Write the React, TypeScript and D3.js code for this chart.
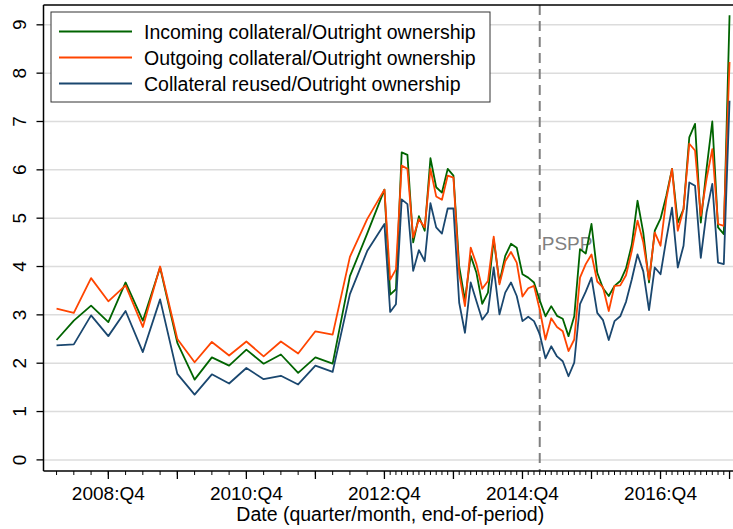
import * as d3 from 'd3';
import { useEffect, useRef } from 'react';

const WIDTH = 733;
const HEIGHT = 529;

// quarterly observations, 2008:Q1 - 2012:Q4
const quarterlyStart = '2008:Q1';
const incomingQ = [
  2.48, 2.88, 3.19, 2.85, 3.67, 2.88, 3.98, 2.42, 1.66, 2.12, 1.95, 2.28, 1.99, 2.18, 1.8, 2.12,
  1.99, 3.8, 4.68, 5.59,
];
const outgoingQ = [
  3.13, 3.04, 3.76, 3.28, 3.61, 2.75, 4.0, 2.5, 2.02, 2.44, 2.16, 2.45, 2.14, 2.45, 2.2, 2.66,
  2.59, 4.2, 4.98, 5.59,
];
const reusedQ = [
  2.37, 2.39, 2.99, 2.56, 3.08, 2.23, 3.32, 1.78, 1.35, 1.77, 1.58, 1.9, 1.67, 1.74, 1.56, 1.95,
  1.82, 3.43, 4.32, 4.88,
];

// monthly observations, 2013:M1 - 2017:M12
const monthlyStart = '2013:M1';
const incomingM = [
  3.42, 3.53, 6.36, 6.31, 4.5, 5.04, 4.74, 6.24, 5.64, 5.53, 6.02, 5.88,
  4.0, 3.3, 4.22, 3.87, 3.23, 3.46, 4.56, 3.67, 4.22, 4.47, 4.39, 3.84,
  3.77, 3.67, 3.3, 2.97, 3.18, 2.98, 2.92, 2.56, 2.97, 4.36, 4.27, 4.88,
  3.87, 3.55, 3.39, 3.6, 3.7, 3.96, 4.45, 5.36, 4.7, 3.67, 4.74, 4.99,
  5.46, 6.02, 4.91, 5.19, 6.67, 6.95, 4.91, 6.02, 7.0, 4.81, 4.67, 9.2,
];
const outgoingM = [
  3.73, 3.94, 6.09, 6.02, 4.6, 4.98, 4.81, 6.02, 5.45, 5.38, 5.88, 5.84,
  3.85, 3.18, 4.39, 4.05, 3.54, 3.7, 4.62, 3.63, 4.11, 4.3, 4.08, 3.38,
  3.55, 3.6, 3.11, 2.49, 2.93, 2.75, 2.66, 2.25, 2.49, 3.77, 4.05, 4.25,
  3.69, 3.57, 3.08, 3.6, 3.61, 3.82, 4.32, 4.95, 4.5, 3.73, 4.7, 4.43,
  5.39, 6.02, 4.74, 5.19, 6.54, 6.4, 5.05, 5.81, 6.43, 4.88, 4.84, 8.23,
];
const reusedM = [
  3.06, 3.22, 5.39, 5.29, 3.91, 4.34, 4.11, 5.31, 4.81, 4.68, 5.2, 5.2,
  3.25, 2.63, 3.67, 3.28, 2.9, 3.06, 3.98, 3.01, 3.46, 3.67, 3.39, 2.87,
  2.96, 2.87, 2.6, 2.1, 2.35, 2.14, 2.04, 1.73, 2.01, 3.22, 3.48, 3.77,
  3.04, 2.89, 2.48, 2.87, 2.97, 3.27, 3.73, 4.25, 3.9, 3.1, 3.98, 3.84,
  4.56, 5.22, 3.98, 4.43, 5.74, 5.67, 4.18, 5.12, 5.71, 4.08, 4.05, 7.43,
];

const seriesNames = [
  'Incoming collateral/Outright ownership',
  'Outgoing collateral/Outright ownership',
  'Collateral reused/Outright ownership',
];
const seriesColors = ['#006400', '#ff4500', '#1a476f'];

const xTickLabels = ['2008:Q4', '2010:Q4', '2012:Q4', '2014:Q4', '2016:Q4'];
const yTicks = [0, 1, 2, 3, 4, 5, 6, 7, 8, 9];
const eventLabel = 'PSPP';
const eventPeriod = '2015:M3';
const xTitle = 'Date (quarter/month, end-of-period)';

const FONT = "'Liberation Sans', Arial, sans-serif";

// month index since 2008:M1 (end-of-period month for quarters)
function periodToMonth(p: string) {
  const [yr, rest] = p.split(':');
  const base = (+yr - 2008) * 12;
  if (rest[0] === 'Q') return base + +rest.slice(1) * 3 - 1;
  return base + +rest.slice(1) - 1;
}

function App() {
  const svgElement = useRef<SVGSVGElement | null>(null);

  useEffect(() => {
    if (!svgElement.current) return;
    const svg = d3.select(svgElement.current);
    svg.selectAll('*').remove();

    const left = 43.5;
    const right = 733;
    const top = 5;
    const bottom = 471;

    const x = d3.scaleLinear().domain([-0.27, 119.6]).range([left, right]);
    const y = d3.scaleLinear().domain([-0.23, 9.41]).range([bottom, top]);

    const q0 = periodToMonth(quarterlyStart);
    const m0 = periodToMonth(monthlyStart);
    const buildSeries = (q: number[], m: number[]) => [
      ...q.map((v, i) => ({ t: q0 + 3 * i, v })),
      ...m.map((v, i) => ({ t: m0 + i, v })),
    ];
    const series = [
      buildSeries(incomingQ, incomingM),
      buildSeries(outgoingQ, outgoingM),
      buildSeries(reusedQ, reusedM),
    ];

    // gridlines
    svg
      .append('g')
      .selectAll('line')
      .data(yTicks)
      .join('line')
      .attr('x1', left)
      .attr('x2', right)
      .attr('y1', (d) => y(d))
      .attr('y2', (d) => y(d))
      .attr('stroke', '#dcdcdc')
      .attr('stroke-width', 1.5);

    // PSPP marker
    const xe = x(periodToMonth(eventPeriod));
    svg
      .append('line')
      .attr('x1', xe)
      .attr('x2', xe)
      .attr('y1', top)
      .attr('y2', bottom)
      .attr('stroke', '#808080')
      .attr('stroke-width', 2)
      .attr('stroke-dasharray', '10,6');
    svg
      .append('text')
      .attr('x', xe + 2)
      .attr('y', 250)
      .attr('fill', '#808080')
      .style('font-family', FONT)
      .style('font-size', '19px')
      .text(eventLabel);

    // lines
    const line = d3
      .line<{ t: number; v: number }>()
      .x((d) => x(d.t))
      .y((d) => y(d.v));
    svg
      .append('g')
      .selectAll('path')
      .data(series)
      .join('path')
      .attr('d', (d) => line(d))
      .attr('fill', 'none')
      .attr('stroke', (_, i) => seriesColors[i])
      .attr('stroke-width', 1.8)
      .attr('stroke-linejoin', 'round');

    // frame
    svg
      .append('line')
      .attr('x1', left)
      .attr('x2', right)
      .attr('y1', top)
      .attr('y2', top)
      .attr('stroke', '#000')
      .attr('stroke-width', 1.5);

    // x axis
    const minorTicks = [
      ...d3.range(q0, m0, 3),
      ...d3.range(m0, periodToMonth('2017:M12') + 1),
    ];
    const yearTicks = d3.range(periodToMonth('2008:Q4'), 120, 12);
    const labelTicks = xTickLabels.map(periodToMonth);
    const xAxis = svg.append('g').attr('transform', `translate(0, ${bottom})`);
    xAxis
      .append('line')
      .attr('x1', left)
      .attr('x2', right)
      .attr('stroke', '#000')
      .attr('stroke-width', 1.5);
    xAxis
      .selectAll('.minor')
      .data(minorTicks)
      .join('line')
      .attr('class', 'minor')
      .attr('x1', (d) => x(d))
      .attr('x2', (d) => x(d))
      .attr('y1', 0)
      .attr('y2', 4)
      .attr('stroke', '#000');
    xAxis
      .selectAll('.year')
      .data(yearTicks)
      .join('line')
      .attr('class', 'year')
      .attr('x1', (d) => x(d))
      .attr('x2', (d) => x(d))
      .attr('y1', 0)
      .attr('y2', 8)
      .attr('stroke', '#000')
      .attr('stroke-width', 1.3);
    xAxis
      .selectAll('text')
      .data(labelTicks)
      .join('text')
      .attr('x', (d) => x(d))
      .attr('y', 29)
      .attr('text-anchor', 'middle')
      .style('font-family', FONT)
      .style('font-size', '19px')
      .text((_, i) => xTickLabels[i]);
    svg
      .append('text')
      .attr('x', (left + right) / 2 + 2)
      .attr('y', 521)
      .attr('text-anchor', 'middle')
      .style('font-family', FONT)
      .style('font-size', '19.5px')
      .text(xTitle);

    // y axis
    const yAxis = svg.append('g');
    yAxis
      .append('line')
      .attr('x1', left)
      .attr('x2', left)
      .attr('y1', top)
      .attr('y2', bottom)
      .attr('stroke', '#000')
      .attr('stroke-width', 1.5);
    yAxis
      .selectAll('.tick')
      .data(yTicks)
      .join('line')
      .attr('class', 'tick')
      .attr('x1', left - 7)
      .attr('x2', left)
      .attr('y1', (d) => y(d))
      .attr('y2', (d) => y(d))
      .attr('stroke', '#000')
      .attr('stroke-width', 1.3);
    yAxis
      .selectAll('text')
      .data(yTicks)
      .join('text')
      .attr('transform', (d) => `translate(26, ${y(d)}) rotate(-90)`)
      .attr('text-anchor', 'middle')
      .style('font-family', FONT)
      .style('font-size', '19px')
      .text((d) => d);

    // legend
    const legend = svg.append('g');
    legend
      .append('rect')
      .attr('x', 51)
      .attr('y', 12)
      .attr('width', 439)
      .attr('height', 90)
      .attr('fill', '#fff')
      .attr('stroke', '#333')
      .attr('stroke-width', 1);
    const rows = legend
      .selectAll('g')
      .data(seriesNames)
      .join('g')
      .attr('transform', (_, i) => `translate(0, ${31.5 + i * 26})`);
    rows
      .append('line')
      .attr('x1', 59)
      .attr('x2', 132)
      .attr('stroke', (_, i) => seriesColors[i])
      .attr('stroke-width', 1.8);
    rows
      .append('text')
      .attr('x', 144)
      .attr('dy', '0.36em')
      .style('font-family', FONT)
      .style('font-size', '19.5px')
      .text((d) => d);
  }, []);

  return (
    <svg
      ref={svgElement}
      width={WIDTH}
      height={HEIGHT}
      style={{ position: 'absolute', left: 0, top: 0, background: '#fff' }}
    />
  );
}

export default App;
